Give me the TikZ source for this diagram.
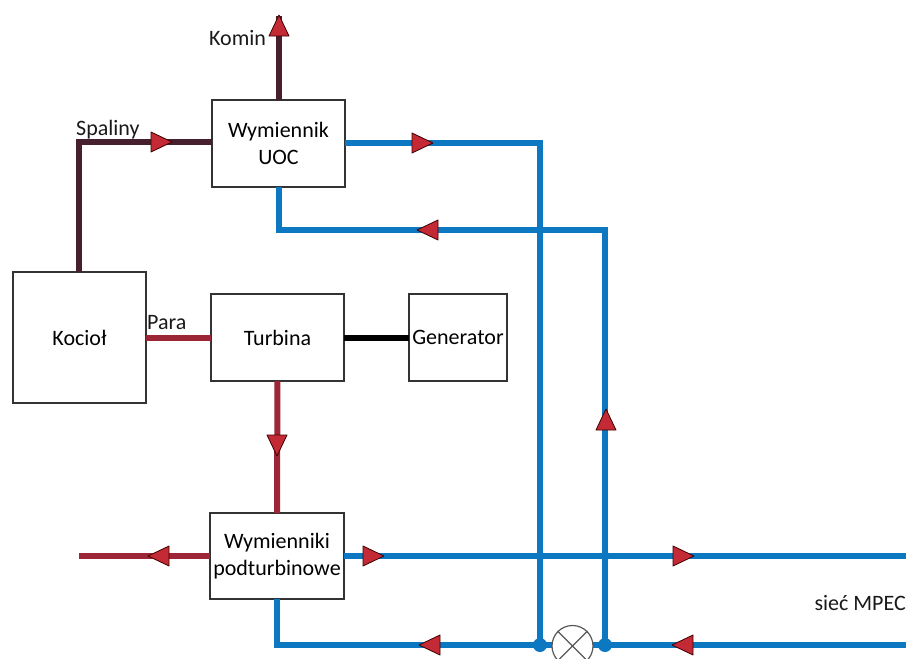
\documentclass[tikz,border=0pt]{standalone}
\usepackage{fontspec}
\setmainfont{Carlito}
\tikzset{
  box/.style={draw=black!80,line width=1.3pt,fill=white,align=center,font=\fontsize{22}{27}\selectfont,inner sep=0pt,outer sep=0pt},
  lbl/.style={inner sep=0pt,font=\fontsize{22}{26}\selectfont,text=black!90},
  flue/.style={draw=flue,line width=6pt},
  steam/.style={draw=steamc,line width=6pt},
  shaft/.style={draw=black,line width=6pt},
  water/.style={draw=waterc,line width=6pt},
  joint/.style={circle,fill=waterc,inner sep=0pt,minimum size=#1},
  pump/.style={circle,draw=black!65,line width=1.2pt,fill=white,minimum size=41pt,inner sep=0pt},
  flow/.pic={\draw[draw=black!75!red,line width=.8pt,fill=tipc,line join=round] (-10,-10) -- (11,0) -- (-10,10) -- cycle;}
}
\definecolor{flue}{HTML}{46202E}
\definecolor{steamc}{HTML}{9C2536}
\definecolor{waterc}{HTML}{0C78C2}
\definecolor{tipc}{HTML}{C42A36}
\begin{document}
\begin{tikzpicture}[x=1pt,y=-1pt]
\useasboundingbox (0,0) rectangle (906,659);
\clip (0,0) rectangle (906,659);
% boxes
\node[box,minimum width=133pt,minimum height=87pt] (uoc) at (278.5,143.5) {Wymiennik\\UOC};
\node[box,minimum width=133pt,minimum height=131pt] (kociol) at (79.5,337.5) {Kocioł};
\node[box,minimum width=133pt,minimum height=87pt] (turb) at (277.5,337.5) {Turbina};
\node[box,minimum width=98pt,minimum height=87pt] (gen) at (458,337.5) {Generator};
\node[box,minimum width=134pt,minimum height=86pt] (wym) at (277,556) {Wymienniki\\podturbinowe};
% free coordinates
\coordinate (komin) at (279,16);
\coordinate (spal) at (79,142);
\coordinate (ret) at (278.5,230);
\coordinate (xa) at (540,143);
\coordinate (xb) at (605,230);
\coordinate (cross) at (540,230);
\coordinate (lout) at (79,556);
\coordinate (rout) at (906,556);
\coordinate (rin) at (906,645);
\coordinate (bl) at (277,645);
\coordinate (ja) at (540,645);
\coordinate (jb) at (605,645);
\coordinate (ca) at (540,556);
\coordinate (cb) at (605,556);
% pipes
\draw[flue,line join=miter] (kociol.north -| spal) -- (spal) -- (spal -| uoc.west);
\draw[flue] (uoc.north -| komin) -- (komin);
\draw[steam] (kociol.east |- turb.west) -- (turb.west);
\draw[shaft] (turb.east) -- (gen.west);
\draw[steam] (turb.south) -- (wym.north);
\draw[steam] (wym.west) -- (lout);
\draw[water] (uoc.east |- xa) -- (xa) -- (ja);
\draw[water] (uoc.south) -- (ret) -- (xb) -- (jb);
\draw[water] (wym.east) -- (rout);
\draw[water] (wym.south) -- (bl) -- (rin);
% joints
\node[joint=9pt] (j1) at (cross) {};
\node[joint=9pt] (j2) at (ca) {};
\node[joint=9pt] (j3) at (cb) {};
\node[joint=14pt] (j4) at (ja) {};
\node[joint=14pt] (j5) at (jb) {};
% pump
\node[pump] (p) at (572.5,646) {};
\draw[draw=black!65,line width=1.2pt] (p.north west) -- (p.south east) (p.north east) -- (p.south west);
% flow marks
\pic[rotate=0] at (161,142) {flow};
\pic[rotate=90] at (279,26) {flow};
\pic[rotate=-90] at (277,445) {flow};
\pic[rotate=180] at (159,556) {flow};
\pic[rotate=0] at (422,143) {flow};
\pic[rotate=180] at (428,230) {flow};
\pic[rotate=90] at (606,420) {flow};
\pic[rotate=0] at (373,556) {flow};
\pic[rotate=0] at (683,556) {flow};
\pic[rotate=180] at (683,645) {flow};
\pic[rotate=180] at (430,645) {flow};
% labels
\node[lbl,anchor=base west] (tkomin) at (209,45) {Komin};
\node[lbl,anchor=base west] (tspal) at (76,135) {Spaliny};
\node[lbl,anchor=base west] (tpara) at (147,329) {Para};
\node[lbl,anchor=base east] (tsiec) at (906,610) {sieć MPEC};
\end{tikzpicture}
\end{document}
